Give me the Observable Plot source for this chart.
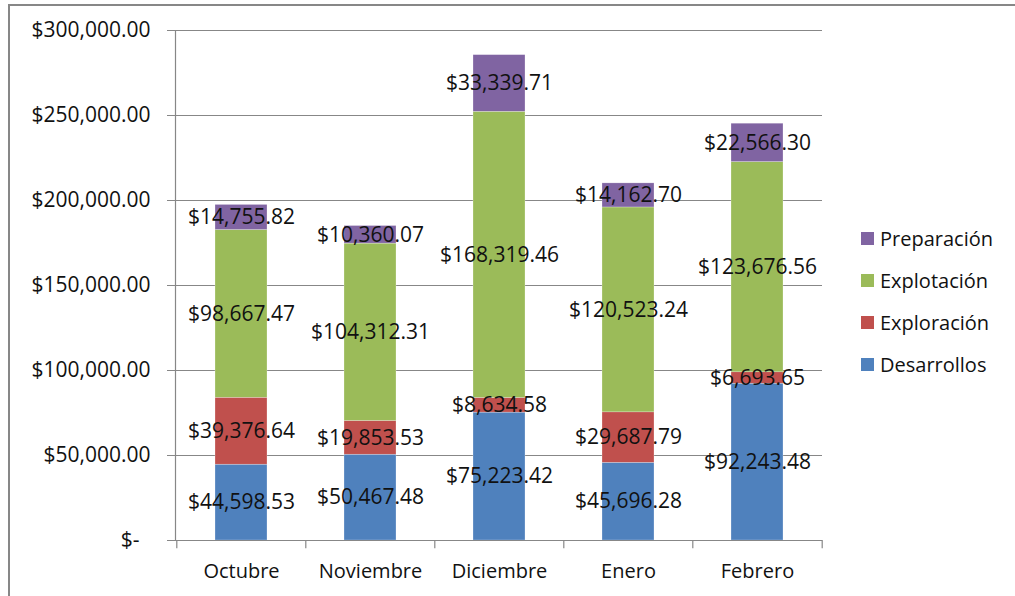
<!DOCTYPE html>
<html>
<head>
<meta charset="utf-8">
<script src="https://cdn.jsdelivr.net/npm/d3@7"></script>
<script src="https://cdn.jsdelivr.net/npm/@observablehq/plot@0.6"></script>
<style>
  html, body { margin: 0; padding: 0; background: #fff; }
  #wrap { position: relative; width: 1015px; height: 596px; overflow: hidden; font-family: "Open Sans", sans-serif; }
  #border { position: absolute; left: 8px; top: 4px; width: 1100px; height: 700px; border-left: 2px solid #878787; border-top: 2px solid #878787; box-sizing: border-box; }
  #chart { position: absolute; left: 0; top: 0; }
  #legend { position: absolute; left: 861px; top: 217px; }
  .item { display: flex; align-items: center; height: 42px; font-size: 20px; color: #111; }
  .sw { width: 13px; height: 13px; margin-right: 6px; }
</style>
</head>
<body>
<div id="wrap">
  <div id="border"></div>
  <div id="chart"></div>
  <div id="legend"></div>
</div>
<script>
const months = ["Octubre", "Noviembre", "Diciembre", "Enero", "Febrero"];
const seriesNames = ["Desarrollos", "Exploración", "Explotación", "Preparación"];
const seriesColors = ["#4F81BD", "#C0504D", "#9BBB59", "#8064A2"];
const desarrollos = [44598.53, 50467.48, 75223.42, 45696.28, 92243.48];
const exploracion = [39376.64, 19853.53, 8634.58, 29687.79, 6693.65];
const explotacion = [98667.47, 104312.31, 168319.46, 120523.24, 123676.56];
const preparacion = [14755.82, 10360.07, 33339.71, 14162.70, 22566.30];
const yTicks = [0, 50000, 100000, 150000, 200000, 250000, 300000];

const seriesValues = [desarrollos, exploracion, explotacion, preparacion];
const data = [];
seriesNames.forEach((s, i) => months.forEach((m, j) => data.push({month: m, serie: s, value: seriesValues[i][j]})));

const money = d3.format(",.2f");
const width = 1015, height = 596;
const mL = 175, mR = 193, mT = 30, mB = 56;
const step = (width - mL - mR) / months.length;

const stackOpts = {x: "month", y: "value", z: "serie", order: seriesNames};

const chart = Plot.plot({
  width, height,
  marginLeft: mL, marginRight: mR, marginTop: mT, marginBottom: mB,
  style: {fontFamily: "Open Sans, sans-serif", fontSize: "21px", color: "#111", background: "transparent", overflow: "visible"},
  x: {domain: months, paddingInner: 0.6, paddingOuter: 0.3, label: null},
  y: {domain: [0, 300000], label: null},
  color: {domain: seriesNames, range: seriesColors},
  marks: [
    Plot.ruleY(yTicks, {stroke: "#878787", strokeWidth: 1.2}),
    Plot.barY(data, Plot.stackY({...stackOpts, fill: "serie", stroke: "#fff", strokeOpacity: 0.5, strokeWidth: 0.5, inset: 0})),
    Plot.text(data, Plot.stackY({...stackOpts, text: d => "$" + money(d.value), fill: "#111", fontSize: 21})),
    Plot.frame({anchor: "left", stroke: "#878787", strokeWidth: 1.2}),
    Plot.ruleY([0], {stroke: "#878787", strokeWidth: 1.2}),
    Plot.ruleX(months, {x: d => d, dx: -step / 2, y1: 0, y2: -4800, stroke: "#878787", strokeWidth: 1.2}),
    Plot.ruleX(months.slice(-1), {x: d => d, dx: step / 2, y1: 0, y2: -4800, stroke: "#878787", strokeWidth: 1.2}),
    Plot.axisY(yTicks, {tickSize: 8, tickPadding: 17, stroke: "#878787", tickFormat: d => d === 0 ? "$-\u00a0\u00a0" : "$" + money(d), fontSize: 21, fill: "#111"}),
    Plot.axisX({tickSize: 0, tickPadding: 23, fontSize: 20, fill: "#111"})
  ]
});
document.getElementById("chart").appendChild(chart);

const legend = document.getElementById("legend");
seriesNames.slice().reverse().forEach((s) => {
  const i = seriesNames.indexOf(s);
  const it = document.createElement("div");
  it.className = "item";
  it.innerHTML = `<span class="sw" style="background:${seriesColors[i]}"></span><span>${s}</span>`;
  legend.appendChild(it);
});
</script>
</body>
</html>
